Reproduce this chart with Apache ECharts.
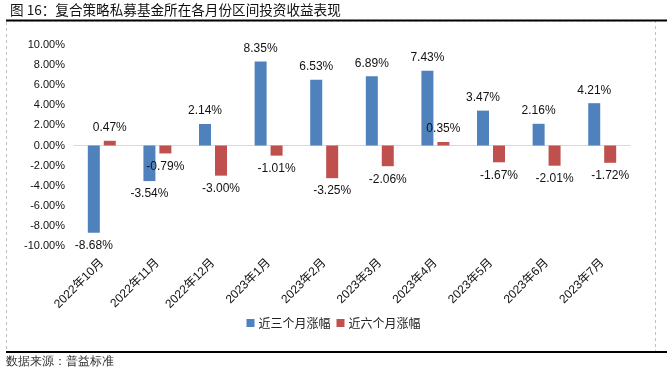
<!DOCTYPE html>
<html><head><meta charset="utf-8">
<script src="https://cdn.jsdelivr.net/npm/echarts@6/dist/echarts.min.js"></script>
<style>html,body{margin:0;padding:0;background:#fff}#c{width:667px;height:372px}</style>
</head><body><div id="c"></div>
<script>
const titleText = '图 16：复合策略私募基金所在各月份区间投资收益表现';
const sourceText = '数据来源：普益标准';
const categories = ['2022年10月','2022年11月','2022年12月','2023年1月','2023年2月','2023年3月','2023年4月','2023年5月','2023年6月','2023年7月'];
const seriesNames = ['近三个月涨幅','近六个月涨幅'];
const threeMonth = [-8.68, -3.54, 2.14, 8.35, 6.53, 6.89, 7.43, 3.47, 2.16, 4.21];
const sixMonth = [0.47, -0.79, -3.00, -1.01, -3.25, -2.06, 0.35, -1.67, -2.01, -1.72];
const yTicks = {min: -10, max: 10, interval: 2};

const font = '"Liberation Sans", "Noto Sans CJK SC", sans-serif';
function mk(vals){
  return vals.map(v => ({value: v, label: {position: v >= 0 ? 'top' : 'bottom'}}));
}
const chart = echarts.init(document.getElementById('c'), null, {renderer: 'canvas'});
chart.setOption({
  animation: false,
  color: ['#4f81bd', '#c0504d'],
  title: {text: titleText, left: 5, top: -2, textStyle: {fontSize: 13.6, fontWeight: 'normal', color: '#111', fontFamily: '"Noto Sans CJK SC", sans-serif'}},
  graphic: [
    {type: 'rect', silent: true, shape: {x: 6.5, y: 21, width: 649, height: 331}, style: {fill: null, stroke: '#c0c0c0', lineWidth: 1, lineDash: [3, 3]}},
    {type: 'line', silent: true, shape: {x1: 6, y1: 20.5, x2: 667, y2: 20.5}, style: {stroke: '#000', lineWidth: 2}},
    {type: 'line', silent: true, shape: {x1: 6, y1: 352, x2: 667, y2: 352}, style: {stroke: '#000', lineWidth: 2}},
    {type: 'text', silent: true, left: 6, top: 356, style: {text: sourceText, fontSize: 12, fill: '#333', font: '12px "Noto Sans CJK SC", sans-serif'}}
  ],
  legend: {data: seriesNames, left: 'center', top: 312, itemWidth: 8, itemHeight: 8, itemGap: 6,
    icon: 'rect', textStyle: {fontSize: 12, color: '#222', fontFamily: '"Noto Sans CJK SC", sans-serif', padding: [0, 0, 0, -1]}},
  grid: {left: 74, right: 37, top: 45, bottom: 126, containLabel: false},
  xAxis: [
    {type: 'category', data: categories, position: 'bottom',
      axisLine: {show: false, onZero: false}, axisTick: {show: false},
      axisLabel: {rotate: 45, interval: 0, margin: 15, fontSize: 12, color: '#111', fontFamily: font}},
    {type: 'category', data: categories, gridIndex: 0,
      axisLine: {show: true, onZero: true, lineStyle: {color: '#d9d9d9', width: 1}},
      axisTick: {show: false}, axisLabel: {show: false}}
  ],
  yAxis: {type: 'value', min: yTicks.min, max: yTicks.max, interval: yTicks.interval,
    axisLine: {show: false}, axisTick: {show: false}, splitLine: {show: false},
    axisLabel: {margin: 9, fontSize: 11, color: '#111', fontFamily: font, formatter: v => v.toFixed(2) + '%'}},
  series: [
    {name: seriesNames[0], type: 'bar', data: mk(threeMonth), barWidth: 12, barGap: '33%',
      label: {show: true, distance: 7, fontSize: 12, color: '#111', fontFamily: font, formatter: p => p.value.toFixed(2) + '%'}},
    {name: seriesNames[1], type: 'bar', data: mk(sixMonth), barWidth: 12, barGap: '33%',
      label: {show: true, distance: 7, fontSize: 12, color: '#111', fontFamily: font, formatter: p => p.value.toFixed(2) + '%'}}
  ]
});
</script></body></html>
